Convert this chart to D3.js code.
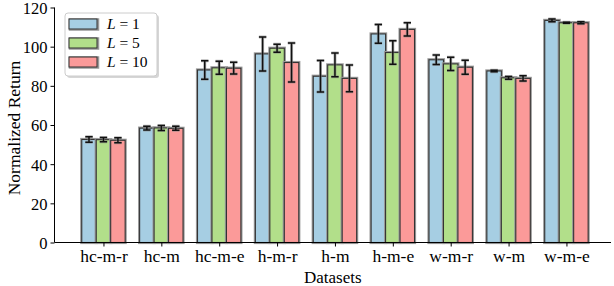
<!DOCTYPE html>
<html>
<head>
<meta charset="utf-8">
<script src="https://cdn.jsdelivr.net/npm/d3@7"></script>
<style>
  body { margin: 0; background: #fff; }
  text { font-family: "Liberation Serif", "DejaVu Serif", serif; fill: #000; }
</style>
</head>
<body>
<div id="chart"></div>
<script>
// Data
var datasets = ["hc-m-r", "hc-m", "hc-m-e", "h-m-r", "h-m", "h-m-e", "w-m-r", "w-m", "w-m-e"];
var seriesNames = ["1", "5", "10"];
var meanL1  = [52.6, 58.4, 88.1, 96.3, 84.9, 106.5, 93.3, 87.6, 113.4];
var meanL5  = [52.5, 58.5, 89.2, 99.2, 90.7, 97.0, 91.2, 84.1, 112.2];
var meanL10 = [52.2, 58.3, 89.0, 91.9, 83.8, 108.8, 89.5, 83.8, 112.2];
var errL1   = [1.4, 0.9, 4.7, 8.7, 8.1, 4.8, 2.4, 0.4, 0.7];
var errL5   = [1.1, 1.3, 3.3, 2.0, 6.1, 6.0, 3.4, 0.7, 0.3];
var errL10  = [1.3, 1.0, 3.0, 10.0, 6.8, 3.4, 3.6, 1.3, 0.5];
var yTicks = [0, 20, 40, 60, 80, 100, 120];
var colors = ["#a6cee3", "#b2df8a", "#fb9a99"];

var means = [meanL1, meanL5, meanL10];
var errs = [errL1, errL5, errL10];

// Layout
var W = 614, H = 286;
var plot = {left: 54.5, right: 611, top: 7.5, bottom: 242.5};
var barW = 0.25;

var svg = d3.select("#chart").append("svg")
    .attr("width", W)
    .attr("height", H);

// Scales
var x = d3.scaleLinear().domain([-0.846, 8.77]).range([plot.left, plot.right]);
var y = d3.scaleLinear().domain([0, 120]).range([plot.bottom, plot.top]);

// Bars
var bars = [];
datasets.forEach(function(d, i) {
  means.forEach(function(m, s) {
    bars.push({i: i, s: s, v: m[i], e: errs[s][i]});
  });
});

var gBars = svg.append("g");
bars.forEach(function(b) {
  var cx = b.i + (b.s - 1) * barW;
  var x0 = x(cx - barW / 2), x1 = x(cx + barW / 2);
  // gray outline stroke underneath
  gBars.append("rect")
      .attr("x", x0).attr("y", y(b.v))
      .attr("width", x1 - x0).attr("height", y(0) - y(b.v))
      .attr("fill", "none")
      .attr("stroke", "#999")
      .attr("stroke-width", 3.2);
  gBars.append("rect")
      .attr("x", x0).attr("y", y(b.v))
      .attr("width", x1 - x0).attr("height", y(0) - y(b.v))
      .attr("fill", colors[b.s])
      .attr("stroke", "#333")
      .attr("stroke-width", 1.1);
});

// Error bars
var gErr = svg.append("g");
bars.forEach(function(b) {
  var cx = x(b.i + (b.s - 1) * barW);
  var lo = y(b.v - b.e), hi = y(b.v + b.e);
  var cap = 3.7;
  var path = "M" + cx + "," + lo + "V" + hi +
      "M" + (cx - cap) + "," + lo + "H" + (cx + cap) +
      "M" + (cx - cap) + "," + hi + "H" + (cx + cap);
  gErr.append("path")
      .attr("d", path)
      .attr("fill", "none")
      .attr("stroke", "#888")
      .attr("stroke-width", 3)
      .attr("opacity", 0.6);
  gErr.append("path")
      .attr("d", path)
      .attr("fill", "none")
      .attr("stroke", "#111")
      .attr("stroke-width", 1.5);
});

// Axes
var yAxis = d3.axisLeft(y).tickValues(yTicks).tickSize(4).tickPadding(3);
var gy = svg.append("g")
    .attr("transform", "translate(" + plot.left + ",0)")
    .call(yAxis);
gy.select(".domain").attr("d", "M0," + plot.top + "V" + plot.bottom).attr("stroke", "#000");
gy.selectAll("text").style("font-size", "16.5px").attr("dy", "0.36em");

var xAxis = d3.axisBottom(x).tickValues(d3.range(datasets.length))
    .tickFormat(function(d) { return datasets[d]; })
    .tickSize(4).tickPadding(3);
var gx = svg.append("g")
    .attr("transform", "translate(0," + plot.bottom + ")")
    .call(xAxis);
gx.select(".domain").attr("d", "M" + plot.left + ",0H" + plot.right).attr("stroke", "#000");
gx.selectAll("text").style("font-size", "17.5px").attr("y", 19.5).attr("dy", null);

// Axis titles
svg.append("text")
    .attr("x", (plot.left + plot.right) / 2)
    .attr("y", 282.5)
    .attr("text-anchor", "middle")
    .style("font-size", "17px")
    .text("Datasets");

svg.append("text")
    .attr("transform", "translate(20," + ((plot.top + plot.bottom) / 2 + 3) + ") rotate(-90)")
    .attr("text-anchor", "middle")
    .style("font-size", "17.5px")
    .text("Normalized Return");

// Legend
var lg = svg.append("g").attr("transform", "translate(65,13)");
lg.append("rect")
    .attr("x", 2).attr("y", 2)
    .attr("width", 92).attr("height", 63)
    .attr("rx", 3)
    .attr("fill", "#bbb")
    .attr("opacity", 0.6);
lg.append("rect")
    .attr("width", 92).attr("height", 63)
    .attr("rx", 3)
    .attr("fill", "#fff")
    .attr("stroke", "#ccc")
    .attr("stroke-width", 1);

seriesNames.forEach(function(n, s) {
  var row = lg.append("g").attr("transform", "translate(4," + (11 + s * 19) + ")");
  row.append("rect")
      .attr("x", 1).attr("y", -4.5)
      .attr("width", 28).attr("height", 10)
      .attr("fill", "none")
      .attr("stroke", "#999")
      .attr("stroke-width", 2.5);
  row.append("rect")
      .attr("x", 0).attr("y", -5)
      .attr("width", 28).attr("height", 10)
      .attr("fill", colors[s])
      .attr("stroke", "#333")
      .attr("stroke-width", 1);
  var t = row.append("text")
      .attr("x", 38).attr("y", 0)
      .attr("dy", "0.35em")
      .style("font-size", "15.5px");
  t.append("tspan").style("font-style", "italic").text("L");
  t.append("tspan").text(" = " + n);
});
</script>
</body>
</html>
